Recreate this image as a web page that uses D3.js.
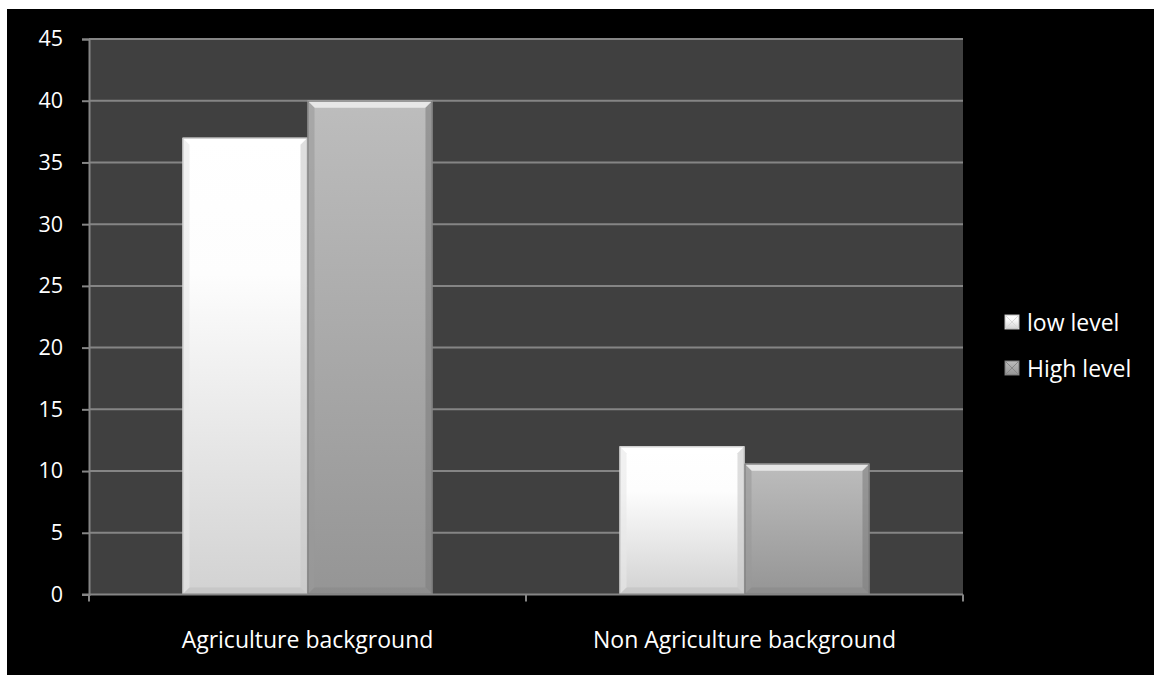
<!DOCTYPE html>
<html><head><meta charset="utf-8">
<script src="https://cdn.jsdelivr.net/npm/d3@7"></script>
<style>
html,body{margin:0;padding:0;background:#fff;}
svg{display:block;}
text{font-family:"Open Sans",Lato,sans-serif;fill:#fff;}
</style></head>
<body>
<script>
const categories = ["Agriculture background", "Non Agriculture background"];
const seriesNames = ["low level", "High level"];
const lowLevel = [37, 12];
const highLevel = [40, 10.6];
const yTicks = [0, 5, 10, 15, 20, 25, 30, 35, 40, 45];

const W = 1154, H = 675;
const FS = 23, FT = 21.5;
const svg = d3.select("body").append("svg").attr("width", W).attr("height", H);
const defs = svg.append("defs");

function vgrad(id, stops) {
  const g = defs.append("linearGradient").attr("id", id).attr("x1", 0).attr("y1", 0).attr("x2", 0).attr("y2", 1);
  stops.forEach(s => g.append("stop").attr("offset", s[0]).attr("stop-color", s[1]));
}
vgrad("gLow", [[0, "#ffffff"], [0.3, "#fdfdfd"], [1, "#d2d2d2"]]);
vgrad("gHigh", [[0, "#bdbdbd"], [1, "#959595"]]);

svg.append("rect").attr("x", 7).attr("y", 9).attr("width", W - 7).attr("height", H - 9).attr("fill", "#000");

const plot = {l: 89, r: 963, t: 39, b: 594.5};
svg.append("rect").attr("x", plot.l).attr("y", plot.t).attr("width", plot.r - plot.l).attr("height", plot.b - plot.t).attr("fill", "#404040");

const y = d3.scaleLinear().domain([0, 45]).range([plot.b, plot.t]);
const x0 = d3.scaleBand().domain(categories).range([plot.l, plot.r]).paddingInner(0.428).paddingOuter(0.214);
const x1 = d3.scaleBand().domain(seriesNames).range([0, x0.bandwidth()]).padding(0);

svg.append("g").selectAll("line").data(yTicks.filter(d => d > 0)).join("line")
  .attr("x1", plot.l).attr("x2", plot.r).attr("y1", d => y(d)).attr("y2", d => y(d))
  .attr("stroke", "#858585").attr("stroke-width", 2);

const data = categories.map((c, i) => ({cat: c, vals: [{s: seriesNames[0], v: lowLevel[i]}, {s: seriesNames[1], v: highLevel[i]}]}));
const bev = 7;
const groups = svg.append("g").selectAll("g").data(data).join("g")
  .attr("transform", d => `translate(${x0(d.cat)},0)`);
groups.each(function(d) {
  const g = d3.select(this);
  d.vals.forEach((b, j) => {
    const bx = x1(b.s), bw = x1.bandwidth(), by = y(b.v), bh = plot.b - y(b.v);
    const isLow = j === 0;
    g.append("rect").attr("x", bx).attr("y", by).attr("width", bw).attr("height", bh)
      .attr("fill", isLow ? "url(#gLow)" : "url(#gHigh)");
    g.append("path").attr("d", `M${bx},${by}L${bx + bw},${by}L${bx + bw - bev},${by + bev}L${bx + bev},${by + bev}Z`)
      .attr("fill", isLow ? "#ffffff" : "#eeeeee").attr("opacity", 0.85);
    g.append("path").attr("d", `M${bx},${by}L${bx + bev},${by + bev}L${bx + bev},${by + bh - bev}L${bx},${by + bh}Z`)
      .attr("fill", isLow ? "#e8e8e8" : "#9a9a9a").attr("opacity", 0.6);
    g.append("path").attr("d", `M${bx + bw},${by}L${bx + bw - bev},${by + bev}L${bx + bw - bev},${by + bh - bev}L${bx + bw},${by + bh}Z`)
      .attr("fill", isLow ? "#c8c8c8" : "#7e7e7e").attr("opacity", 0.6);
    g.append("path").attr("d", `M${bx},${by + bh}L${bx + bev},${by + bh - bev}L${bx + bw - bev},${by + bh - bev}L${bx + bw},${by + bh}Z`)
      .attr("fill", isLow ? "#c0c0c0" : "#888888").attr("opacity", 0.6);
    g.append("rect").attr("x", bx + 0.5).attr("y", by + 0.5).attr("width", bw - 1).attr("height", bh - 1)
      .attr("fill", "none").attr("stroke", isLow ? "#c4c4c4" : "#7a7a7a").attr("stroke-width", 1);
  });
});

const yAxis = d3.axisLeft(y).tickValues(yTicks).tickSize(7).tickPadding(19);
const ga = svg.append("g").attr("transform", `translate(${plot.l},0)`).call(yAxis);
ga.select(".domain").attr("stroke", "#858585").attr("stroke-width", 2);
ga.selectAll(".tick line").attr("stroke", "#858585").attr("stroke-width", 2);
ga.selectAll(".tick text").attr("font-size", FT).attr("fill", "#fff").style("font-family", "'Open Sans'");

svg.append("line").attr("x1", plot.l - 7).attr("x2", plot.r).attr("y1", plot.b).attr("y2", plot.b)
  .attr("stroke", "#858585").attr("stroke-width", 2);
const xEdges = [plot.l, (plot.l + plot.r) / 2, plot.r];
svg.append("g").selectAll("line").data(xEdges).join("line")
  .attr("x1", d => d).attr("x2", d => d).attr("y1", plot.b).attr("y2", plot.b + 7)
  .attr("stroke", "#858585").attr("stroke-width", 2);
svg.append("g").selectAll("text").data(categories).join("text")
  .attr("x", d => x0(d) + x0.bandwidth() / 2).attr("y", 648)
  .attr("text-anchor", "middle").attr("font-size", FS).text(d => d);

const leg = svg.append("g").selectAll("g").data(seriesNames).join("g")
  .attr("transform", (d, i) => `translate(1005,${315 + i * 46})`);
leg.append("rect").attr("width", 14).attr("height", 14).attr("fill", (d, i) => i === 0 ? "url(#gLow)" : "url(#gHigh)")
  .attr("stroke", (d, i) => i === 0 ? "#bbb" : "#777").attr("stroke-width", 1);
leg.append("path").attr("d", "M0,0L14,14M14,0L0,14").attr("stroke", (d, i) => i === 0 ? "#d8d8d8" : "#888").attr("stroke-width", 1);
leg.append("text").attr("x", 22).attr("y", 16).attr("font-size", FS).text(d => d);
</script>
</body></html>
